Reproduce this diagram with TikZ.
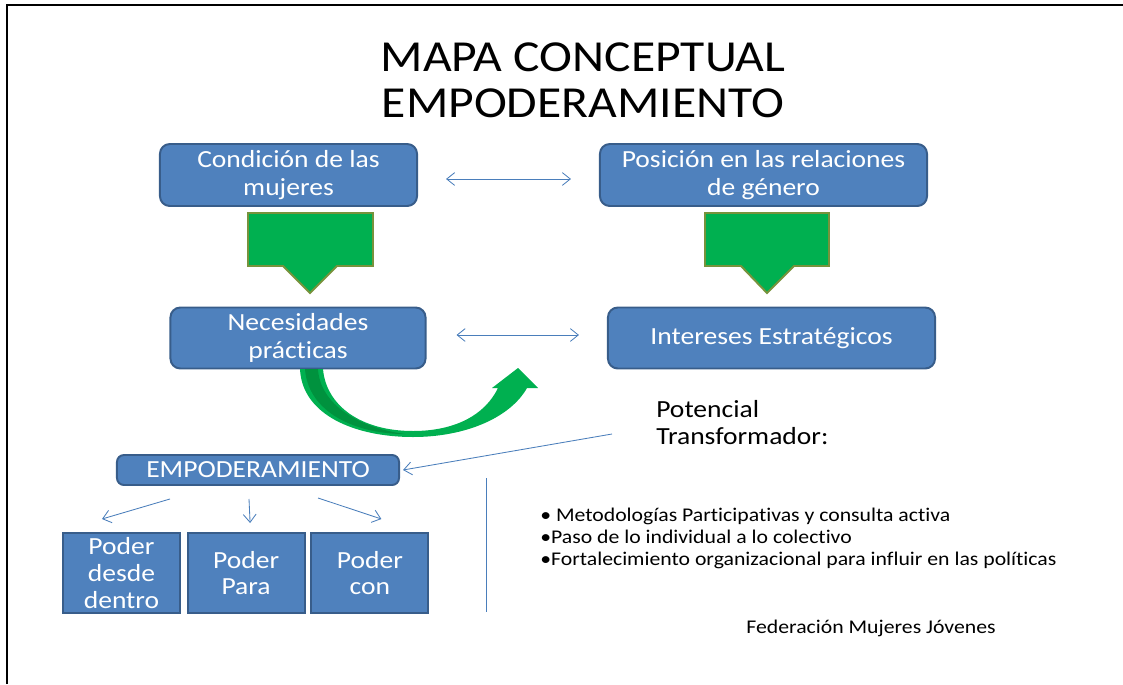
\documentclass[tikz,border=0pt]{standalone}
\usepackage{fontspec}
\setmainfont{Carlito}[FakeStretch=1.12, Ligatures=NoCommon]
\usepackage{xcolor}
\usepackage{tikz}
\usetikzlibrary{arrows.meta,positioning,calc}

\definecolor{boxblue}{HTML}{4F81BD}
\definecolor{boxedge}{HTML}{385D8A}
\definecolor{linkblue}{HTML}{4A7EBB}
\definecolor{arrgreen}{HTML}{00B050}
\definecolor{arrdark}{HTML}{00923E}
\definecolor{arredge}{HTML}{77933C}

\begin{document}
\begin{tikzpicture}[
  x=0.025cm, y=-0.025cm,
  concepto/.style={draw=boxedge, line width=1.4pt, rounded corners=7pt, fill=boxblue, text=white, align=center, inner sep=2pt, font=\fontsize{17.5}{20}\selectfont},
  poder/.style={draw=boxedge, line width=1.4pt, fill=boxblue, text=white, align=center, inner sep=2pt, minimum width=2.925cm, minimum height=2cm, font=\fontsize{17.5}{19}\selectfont},
  bloque/.style={fill=arrgreen, draw=arredge, line width=1.4pt},
  link/.style={draw=linkblue, line width=0.6pt},
  arr/.style={link, -{Straight Barb[length=2mm,width=3.2mm]}},
  darr/.style={link, {Straight Barb[length=2mm,width=3.2mm]}-{Straight Barb[length=2mm,width=3.2mm]}},
  plain/.style={align=left, inner sep=0pt}
]
\useasboundingbox (0,0) rectangle (1123,684);

% frame
\draw[line width=1.4pt] (7,684) -- (7,5) -- (1123,5);

% title
\node[align=center, font=\fontsize{31.5}{33}\selectfont] (title) at (583,80) {MAPA CONCEPTUAL\\EMPODERAMIENTO};

% concept boxes
\node[concepto, minimum width=6.425cm, minimum height=1.55cm] (cond) at (288.5,175) {Condición de las\\mujeres};
\node[concepto, minimum width=8.175cm, minimum height=1.55cm] (pos) at (763.5,175) {Posición en las relaciones\\de género};
\node[concepto, minimum width=6.375cm, minimum height=1.525cm] (nec) at (298,338) {Necesidades\\prácticas};
\node[concepto, minimum width=8.175cm, minimum height=1.525cm] (int) at (771.5,338) {Intereses Estratégicos};
\node[concepto, minimum width=7.05cm, minimum height=0.75cm, rounded corners=5pt] (emp) at (258,470) {EMPODERAMIENTO};

\node[poder] (p1) at (121.5,573) {Poder\\desde\\dentro};
\node[poder, right=0.14cm of p1] (p2) {Poder\\Para};
\node[poder, right=0.12cm of p2] (p3) {Poder\\con};

% texts
\node[plain, anchor=west, font=\fontsize{17.5}{19.2}\selectfont] (pot) at (656,423) {Potencial\\Transformador:};
\node[plain, anchor=west, font=\fontsize{13.8}{15.6}\selectfont] (lista) at (540,538) {\textbullet{} Metodologías Participativas y consulta activa\\\textbullet Paso de lo individual a lo colectivo\\\textbullet Fortalecimiento organizacional para influir en las políticas};
\node[plain, font=\fontsize{13.8}{15.6}\selectfont] (fed) at (871,628) {Federación Mujeres Jóvenes};

% green block arrows
\draw[bloque] (248,213) -- (373,213) -- (373,266) -- (337,266) -- (310,293) -- (283,266) -- (248,266) -- cycle;
\draw[bloque] (705,213) -- (829,213) -- (829,266) -- (794,266) -- (767,293) -- (741,266) -- (705,266) -- cycle;

% curved arrow
\fill[arrgreen] (300,369) .. controls (302,415) and (355,437) .. (413,437)
  .. controls (465,437) and (510,418) .. (527,388) -- (538,388) -- (518,368) -- (492,388) -- (498,388)
  .. controls (485,415) and (455,431) .. (413,431)
  .. controls (360,431) and (326,405) .. (323,369) -- cycle;
\fill[arrdark] (305,369) .. controls (308,412) and (355,434) .. (405,434)
  .. controls (360,428) and (320,405) .. (318,369) -- cycle;

% connectors
\draw[darr] ($(cond.east)+(28,4)$) -- ($(pos.west)+(-28,4)$);
\draw[darr] ($(nec.east)+(30,-3)$) -- ($(int.west)+(-28,-3)$);
\draw[arr] ($(pot.west)+(-44,11)$) -- ($(emp.east)+(3,0)$);
\draw[arr] ($(emp.south)+(-88,13)$) -- ($(p1.north)+(-19.5,-13)$);
\draw[arr] ($(emp.south)+(-9,13)$) -- ($(p2.north)+(4,-9)$);
\draw[arr] ($(emp.south)+(60,12)$) -- ($(p3.north)+(11.5,-13)$);

% separator
\coordinate (sepTop) at (486,478);
\coordinate (sepBot) at (486,612);
\draw[link] (sepTop) -- (sepBot);

\end{tikzpicture}
\end{document}
